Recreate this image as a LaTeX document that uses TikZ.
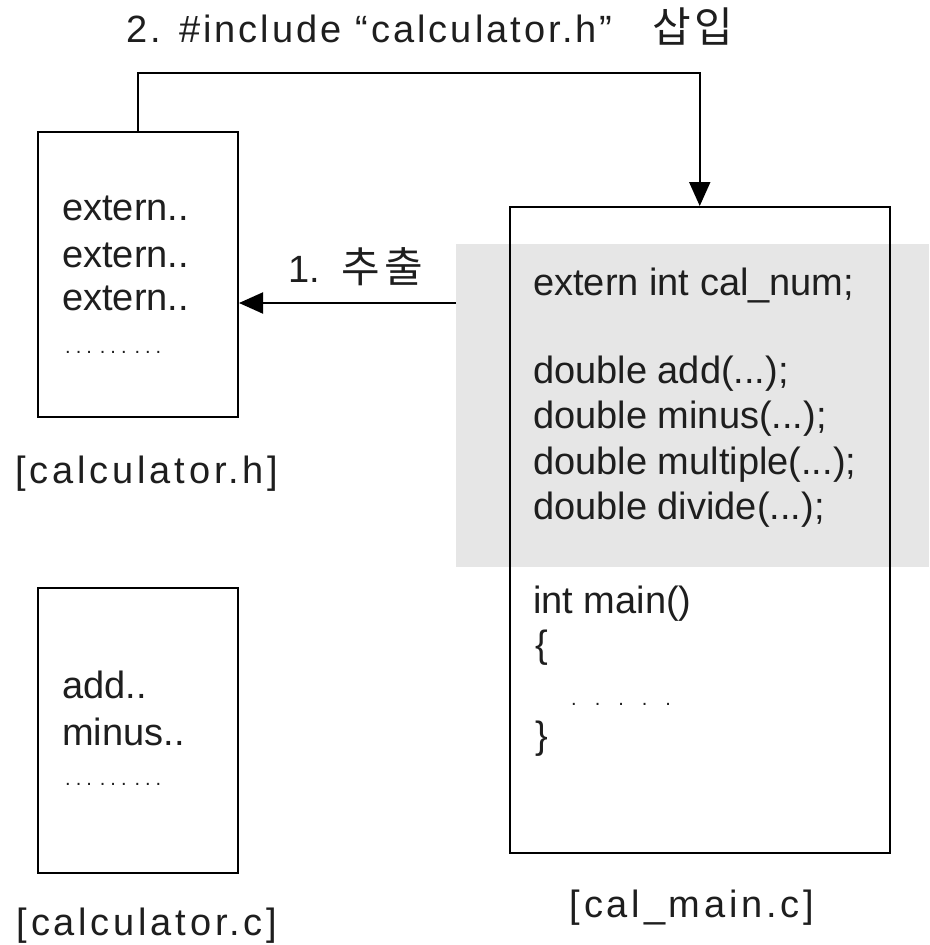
\documentclass[tikz,border=0pt]{standalone}
\usepackage{fontspec}
\setmainfont{Liberation Sans}
\newfontfamily\kr{Noto Sans CJK KR}
\usetikzlibrary{arrows.meta}

\definecolor{ink}{HTML}{1E1E1E}
\definecolor{shadegray}{HTML}{E6E6E6}

\newcommand\bodysize{\fontsize{38}{38}\selectfont}
\newcommand\hangul[1]{{\kr\fontsize{42}{42}\selectfont#1}}
\newcommand\dotrow[1]{{\fontsize{20}{20}\selectfont#1}}

\tikzset{
  filebox/.style={draw=black, line width=2pt, inner sep=0pt},
  shadebox/.style={fill=shadegray, draw=none, inner sep=0pt},
  code/.style={anchor=base west, inner sep=0pt, text=ink, font=\bodysize},
  caption/.style={anchor=base, inner sep=0pt, text=ink,
    font=\bodysize\addfontfeatures{LetterSpace=10}},
  flow/.style={line width=2pt, -{Triangle[length=24pt,width=21pt]}},
}

\begin{document}
\begin{tikzpicture}[x=1pt, y=-1pt]
\useasboundingbox (0,0) rectangle (929,945);

% highlighted declaration block
\node[shadebox, minimum width=473pt, minimum height=323pt] (shade) at (692.5,405.5) {};

% the three files
\node[filebox, minimum width=200pt, minimum height=285pt] (hbox) at (138,274.5) {};
\node[filebox, minimum width=200pt, minimum height=285pt] (cbox) at (138,730.5) {};
\node[filebox, minimum width=380.5pt, minimum height=646pt] (mbox) at (699.75,530) {};

% calculator.h contents
\node[code] (h1) at (62,220) {extern..};
\node[code] (h2) at (62,267) {extern..};
\node[code] (h3) at (62,310) {extern..};
\node[code] (h4) at (65,353) {\dotrow{.\kern5pt.\kern5pt.\kern8pt.\kern5pt.\kern5pt.\kern8pt.\kern5pt.\kern5pt.}};
\node[caption] (hcap) at (147,483) {[calculator.h]};

% calculator.c contents
\node[code] (c1) at (62,698) {add..};
\node[code] (c2) at (62,745) {minus..};
\node[code] (c3) at (65,785) {\dotrow{.\kern5pt.\kern5pt.\kern8pt.\kern5pt.\kern5pt.\kern8pt.\kern5pt.\kern5pt.}};
\node[caption] (ccap) at (147,935) {[calculator.c]};

% cal_main.c contents
\node[code] (m1) at (533,295) {extern int cal\_num;};
\node[code] (m2) at (533,383) {double add(...);};
\node[code] (m3) at (533,428) {double minus(...);};
\node[code] (m4) at (533,474) {double multiple(...);};
\node[code] (m5) at (533,519) {double divide(...);};
\node[code] (m6) at (533,613) {int main()};
\node[code] (m7) at (535,657) {\{};
\node[code] (m8) at (571,705) {\dotrow{.\kern18pt.\kern18pt.\kern18pt.\kern18pt.}};
\node[code] (m9) at (535,748) {\}};
\node[caption] (mcap) at (692,917) {[cal\_main.c]};

% step 1: extract declarations into the header
\coordinate (exsrc) at (456,303);
\draw[flow] (exsrc) -- (hbox.east |- exsrc);
\node[code] (step1) at (288,282) {1.\kern22pt\hangul{추\kern4pt 출}};

% step 2: include the header in cal_main.c
\draw[flow] (hbox.north) -- ++(0,-58) -| (mbox.north);
\node[code, font=\bodysize\addfontfeatures{LetterSpace=8}] (step2) at (126,42)
  {2. \#include “calculator.h”\kern40pt\hangul{삽\kern3pt 입}};
\end{tikzpicture}
\end{document}
